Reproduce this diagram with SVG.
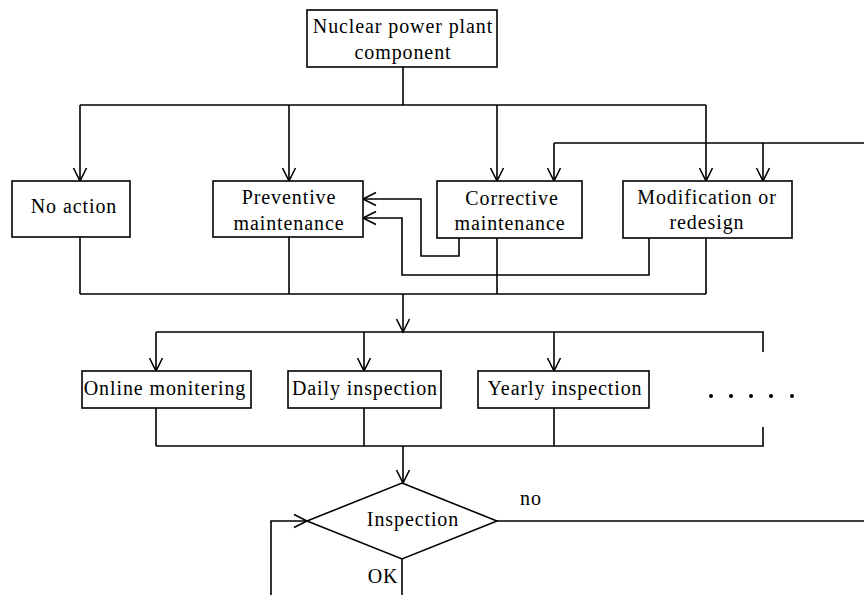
<svg xmlns="http://www.w3.org/2000/svg" width="864" height="595" viewBox="0 0 864 595">
<style>
.box{fill:#fff;stroke:#000;stroke-width:1.6}
.ln{fill:none;stroke:#000;stroke-width:1.6}
.ar{marker-end:url(#arr)}
text{font-family:"Liberation Serif","Times New Roman",serif;font-size:20px;letter-spacing:0.9px;fill:#000;text-anchor:middle}
</style>
<defs>
<marker id="arr" markerUnits="userSpaceOnUse" viewBox="-14 -8 16 16" refX="0" refY="0" markerWidth="16" markerHeight="16" orient="auto" overflow="visible">
<path d="M-13,-6.5 L0,0 L-13,6.5" fill="none" stroke="#000" stroke-width="1.6"/>
</marker>
</defs>
<rect width="864" height="595" fill="#fff"/>
<g id="connectors">
<path class="ln" d="M403,67 V105 M80,105 H706"/>
<path class="ln ar" d="M80,105 V181"/>
<path class="ln ar" d="M289,105 V181"/>
<path class="ln ar" d="M497,105 V181"/>
<path class="ln ar" d="M706,105 V181"/>
<path class="ln" d="M864,143 H554"/>
<path class="ln ar" d="M554,143 V181"/>
<path class="ln ar" d="M763,143 V181"/>
<path class="ln ar" d="M459,238 V256 H421 V199 H363"/>
<path class="ln ar" d="M649,238 V275 H402 V218 H363"/>
<path class="ln" d="M80,237 V294 M289,237 V294 M497,238 V294 M706,238 V294 M80,294 H706"/>
<path class="ln ar" d="M403,294 V332"/>
<path class="ln" d="M156,332 H763 V352"/>
<path class="ln ar" d="M156,332 V371"/>
<path class="ln ar" d="M364,332 V371"/>
<path class="ln ar" d="M554,332 V371"/>
<path class="ln" d="M156,408 V446 M364,408 V446 M554,408 V446 M156,446 H763 V427"/>
<path class="ln ar" d="M403,446 V483"/>
<path class="ln" d="M497,521 H864"/>
<path class="ln ar" d="M271,595 V521 H307"/>
<path class="ln" d="M402,559 V595"/>
</g>
<g id="n-top"><rect class="box" x="307" y="10" width="190" height="57"/><text x="403" y="33">Nuclear power plant</text><text x="403" y="59">component</text></g>
<g id="n-noaction"><rect class="box" x="12" y="181" width="118" height="56"/><text x="74" y="213">No action</text></g>
<g id="n-preventive"><rect class="box" x="213" y="181" width="150" height="56"/><text x="289" y="204">Preventive</text><text x="289" y="230">maintenance</text></g>
<g id="n-corrective"><rect class="box" x="437" y="181" width="145" height="57"/><text x="512" y="205">Corrective</text><text x="510" y="230">maintenance</text></g>
<g id="n-modification"><rect class="box" x="623" y="181" width="169" height="57"/><text x="707" y="204">Modification or</text><text x="707" y="229">redesign</text></g>
<g id="n-online"><rect class="box" x="82" y="371" width="169" height="37"/><text x="165" y="395">Online monitering</text></g>
<g id="n-daily"><rect class="box" x="288" y="371" width="153" height="37"/><text x="365" y="395">Daily inspection</text></g>
<g id="n-yearly"><rect class="box" x="478" y="371" width="171" height="37"/><text x="565" y="395">Yearly inspection</text></g>
<g id="n-dots"><circle cx="711" cy="396" r="2"/><circle cx="731" cy="396" r="2"/><circle cx="751" cy="396" r="2"/><circle cx="771" cy="396" r="2"/><circle cx="792" cy="396" r="2"/></g>
<g id="n-inspection"><polygon class="box" points="402,483 497,521 402,559 307,521"/><text x="413" y="526">Inspection</text></g>
<g id="labels"><text x="531" y="505">no</text><text x="383" y="583">OK</text></g>
</svg>
